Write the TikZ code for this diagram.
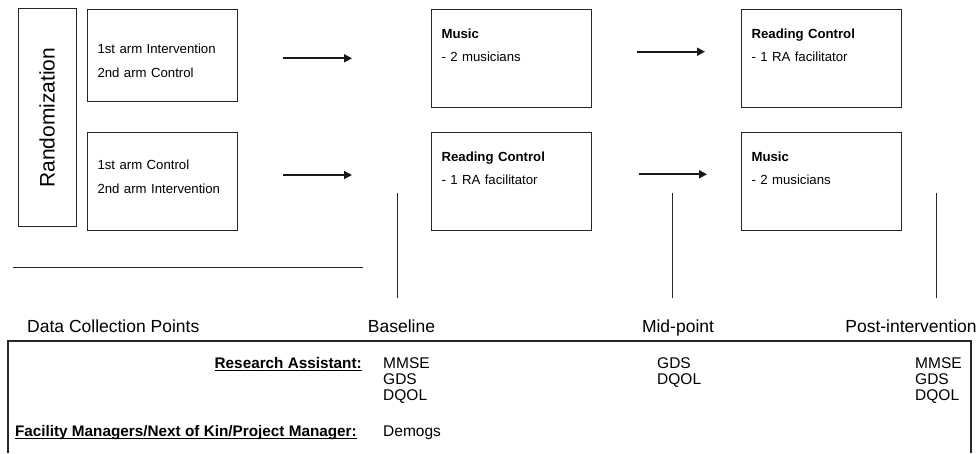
\documentclass[tikz,border=0pt]{standalone}
\usepackage{fontspec}
\setmainfont{Liberation Sans}
\usetikzlibrary{arrows.meta,positioning}
\newcommand{\ulabel}[1]{\setbox0=\hbox{#1}\rlap{\rule[-3.4pt]{\wd0}{1.1pt}}\box0}

\begin{document}
\begin{tikzpicture}[
  x=1pt, y=-1pt,
  box/.style={draw=black!85, line width=1.1pt, align=left, inner xsep=10pt, inner ysep=0pt, anchor=north west, font=\fontsize{13.2}{23.5}\selectfont},
  armbox/.style={box, text width=130pt},
  stagebox/.style={box, text width=140pt, text height=29pt, text depth=69.5pt},
  arr/.style={-{Triangle[length=8pt, width=8pt]}, line width=1.8pt, black!90},
  thin/.style={line width=1pt, black!85},
  point/.style={font=\fontsize{17.5}{20}\selectfont, anchor=base, inner sep=0pt},
  who/.style={font=\fontsize{15.3}{16}\selectfont\bfseries, anchor=base east, inner sep=0pt},
  measure/.style={font=\fontsize{15.5}{16}\selectfont, align=left, text width=60pt, anchor=base west, inner sep=0pt}
]
  \useasboundingbox (0,0) rectangle (977,453);

  % randomisation and the two arms
  \node[draw=black!85, line width=1.1pt, rotate=90, minimum width=218pt, minimum height=57.7pt, inner sep=0pt, font=\fontsize{21}{24}\selectfont] (rand) at (47.2,117.7) {Randomization};
  \node[armbox, text height=44.6pt, text depth=47.7pt] (arm1) at (87,8.7) {1st arm Intervention\\2nd arm Control};
  \node[armbox, text height=37.6pt, text depth=60.7pt] (arm2) at (87,131.7) {1st arm Control\\2nd arm Intervention};

  % sessions
  \node[stagebox] (music1) at (431,8.7) {\textbf{Music}\\- 2 musicians};
  \node[stagebox] (read1) at (741,8.7) {\textbf{Reading Control}\\- 1 RA facilitator};
  \node[stagebox] (read2) at (431,131.7) {\textbf{Reading Control}\\- 1 RA facilitator};
  \node[stagebox] (music2) at (741,131.7) {\textbf{Music}\\- 2 musicians};

  \coordinate (a1s) at (283,58.3);  \coordinate (a1e) at (352,58.3);
  \coordinate (a2s) at (283,175);   \coordinate (a2e) at (352,175);
  \coordinate (a3s) at (637,51.7);  \coordinate (a3e) at (705,51.7);
  \coordinate (a4s) at (639,174.3); \coordinate (a4e) at (707,174.3);
  \draw[arr] (a1s) -- (a1e);
  \draw[arr] (a2s) -- (a2e);
  \draw[arr] (a3s) -- (a3e);
  \draw[arr] (a4s) -- (a4e);

  % data collection points
  \coordinate (rule1) at (13,267.3); \coordinate (rule2) at (363,267.3);
  \draw[thin] (rule1) -- (rule2);
  \coordinate (tb1) at (397,193); \coordinate (tb2) at (397,298);
  \coordinate (tm1) at (672,193); \coordinate (tm2) at (672,298);
  \coordinate (tp1) at (936,193); \coordinate (tp2) at (936,298);
  \draw[thin] (tb1) -- (tb2);
  \draw[thin] (tm1) -- (tm2);
  \draw[thin] (tp1) -- (tp2);

  \node[point, anchor=base west] (dcp) at (27,332) {Data Collection Points};
  \node[point] (baseline) at (401.5,332) {Baseline};
  \node[point] (midpoint) at (678,332) {Mid-point};
  \node[point] (post) at (911,332) {Post-intervention};

  \draw[line width=1.1pt, black!85] (8,453) |- (971,341) -- (971,453);

  \node[who] (ra) at (362,368) {\ulabel{Research Assistant:}};
  \node[who] (fm) at (357,436) {\ulabel{Facility Managers/Next of Kin/Project Manager:}};
  \node[measure] (mbase) at (383,368) {MMSE\\GDS\\DQOL};
  \node[measure] (mmid) at (657,368) {GDS\\DQOL};
  \node[measure] (mpost) at (915,368) {MMSE\\GDS\\DQOL};
  \node[measure] (demogs) at (383,436) {Demogs};
\end{tikzpicture}
\end{document}
